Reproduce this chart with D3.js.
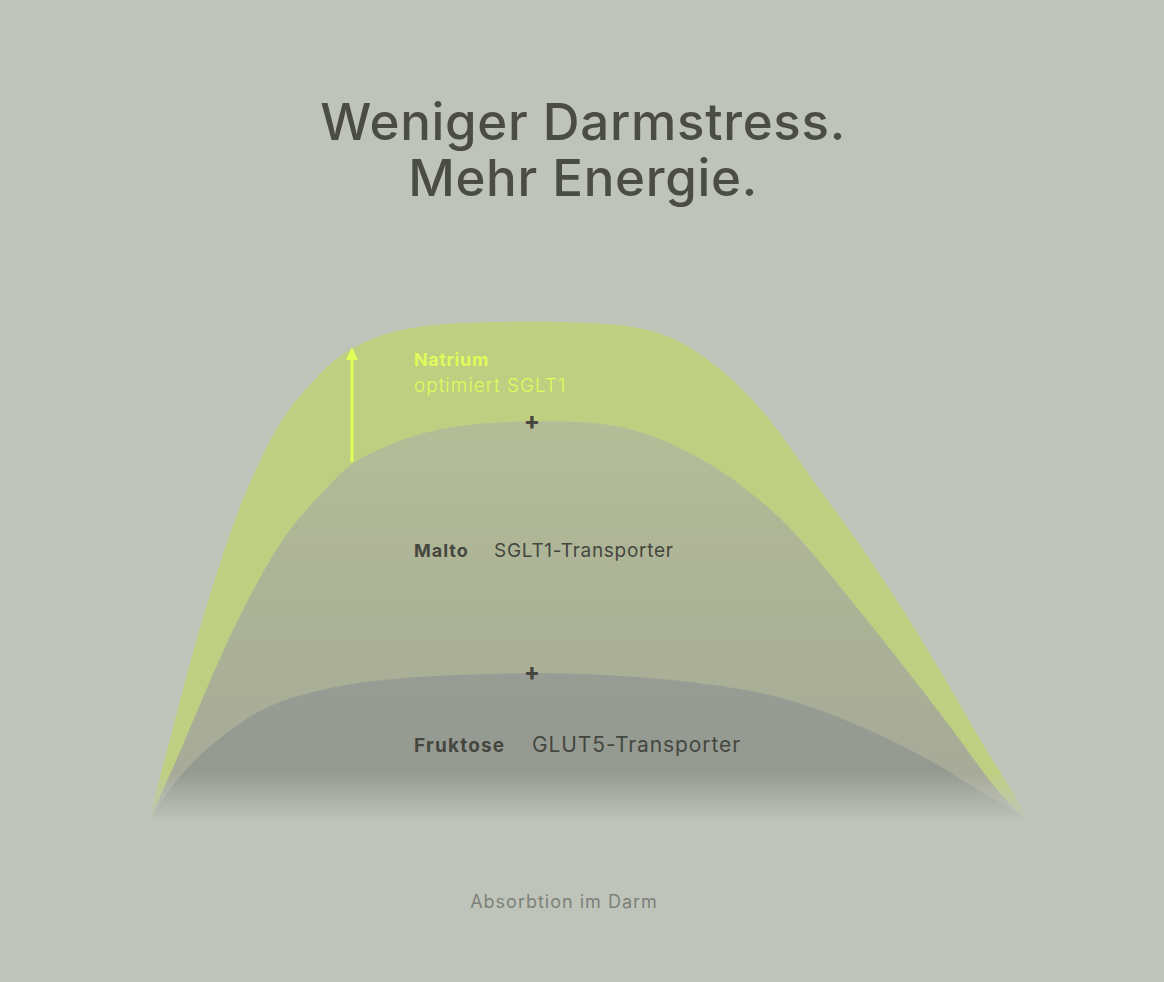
<!DOCTYPE html>
<html><head><meta charset="utf-8">
<script src="https://cdn.jsdelivr.net/npm/d3@7"></script>
<style>
html,body{margin:0;padding:0;background:#bfc4bb;}
svg{display:block;}
</style></head>
<body>
<div id="chart"></div>
<script>
// Data (x: position along gut 0-100, y: absorption 0-100)
const natriumX = [0,0.3,1.9,3.8,5.9,8.3,11.0,14.8,17.1,19.9,22.4,27.3,34.2,46.7,53.5,59.2,64.9,68.7,71.6,76.0,80.0,86.6,91.1,95.4,99.1,100];
const natriumY = [0,3.4,13.4,26.6,40,53.4,66.6,80,85,90.4,94,98,99.6,99.8,99.2,97.4,90.6,84,78,66.6,57.4,40,26.6,13.4,3.4,0];
const maltoX = [0,0.8,3.4,6.5,9.9,14.0,16.7,20.2,23.1,28.5,32.2,37.6,43.3,50.5,57.3,64.6,68.3,71.8,75.5,81.7,87.7,93.4,96.0,99.7];
const maltoY = [0,3.4,13.4,26.6,40,53.4,60,66.6,72,76,78,79.4,79.8,79.8,77.4,70.6,65.6,60.6,53.4,40,26.6,13.4,6.6,0];
const fruktoseX = [0,2.3,5.7,10.6,14.0,20.2,28.5,39.9,50.5,62.6,71.8,79.4,87.7,93.7,98.3,99.7];
const fruktoseY = [0,6.6,13.4,20,23.4,26.6,28.6,29.4,29.4,27.6,25,20,13.4,6.6,2,0];

const titleLines = ["Weniger Darmstress.", "Mehr Energie."];
const labelBold = ["Natrium", "Malto", "Fruktose"];
const labelText = ["optimiert SGLT1", "SGLT1-Transporter", "GLUT5-Transporter"];
const axisLabel = "Absorbtion im Darm";

const W = 1164, H = 982;
const svg = d3.select("#chart").append("svg").attr("width", W).attr("height", H);
const bg = "#bfc4bb";
svg.append("rect").attr("width", W).attr("height", H).attr("fill", bg);

const x = d3.scaleLinear().domain([0,100]).range([150,1028]);
const y = d3.scaleLinear().domain([0,100]).range([820,320]);

const defs = svg.append("defs");
const gM = defs.append("linearGradient").attr("id","gMalto").attr("gradientUnits","userSpaceOnUse")
  .attr("x1",0).attr("y1",y(80)).attr("x2",0).attr("y2",y(0));
gM.append("stop").attr("offset",0).attr("stop-color","#b4bc97");
gM.append("stop").attr("offset",0.55).attr("stop-color","#abb196");
gM.append("stop").attr("offset",1).attr("stop-color","#a6a899");
const gF = defs.append("linearGradient").attr("id","gFruk").attr("gradientUnits","userSpaceOnUse")
  .attr("x1",0).attr("y1",y(30)).attr("x2",0).attr("y2",y(0));
gF.append("stop").attr("offset",0).attr("stop-color","#979d94");
gF.append("stop").attr("offset",1).attr("stop-color","#949990");
const gFade = defs.append("linearGradient").attr("id","gFade").attr("gradientUnits","userSpaceOnUse")
  .attr("x1",0).attr("y1",772).attr("x2",0).attr("y2",824);
gFade.append("stop").attr("offset",0).attr("stop-color",bg).attr("stop-opacity",0);
gFade.append("stop").attr("offset",0.6).attr("stop-color",bg).attr("stop-opacity",0.65);
gFade.append("stop").attr("offset",1).attr("stop-color",bg).attr("stop-opacity",1);

const area = d3.area().x(d=>x(d[0])).y0(y(0)).y1(d=>y(d[1])).curve(d3.curveBasis);
const zip = (a,b)=>a.map((v,i)=>[v,b[i]]);

svg.append("path").datum(zip(natriumX,natriumY)).attr("d",area).attr("fill","#bfcf81");
svg.append("path").datum(zip(maltoX,maltoY)).attr("d",area).attr("fill","url(#gMalto)");
svg.append("path").datum(zip(fruktoseX,fruktoseY)).attr("d",area).attr("fill","url(#gFruk)");
svg.append("rect").attr("x",100).attr("y",772).attr("width",980).attr("height",60).attr("fill","url(#gFade)");

const font = "Inter, 'Noto Sans', sans-serif";
// title
svg.append("g").selectAll("text").data(titleLines).join("text")
  .attr("x", 583).attr("y",(d,i)=>140+i*56)
  .attr("text-anchor","middle").attr("font-family",font).attr("font-weight",500)
  .attr("font-size",51).attr("fill","#4a4c45").attr("letter-spacing","0.7")
  .text(d=>d);

// arrow
const arrowX = 23.0;
svg.append("line").attr("x1",x(arrowX)).attr("x2",x(arrowX)).attr("y1",y(71.6)).attr("y2",y(92.5))
  .attr("stroke","#e2ff55").attr("stroke-width",3);
svg.append("path").attr("d",`M${x(arrowX)-6},${y(92)} L${x(arrowX)},${y(94.6)} L${x(arrowX)+6},${y(92)} Z`).attr("fill","#e2ff55");

// labels
const natC = "#e0fb5a", dark = "#45473f";
svg.append("text").attr("x",414).attr("y",366).attr("font-family",font).attr("font-weight",700)
  .attr("font-size",18).attr("letter-spacing","0.6").attr("fill",natC).text(labelBold[0]);
svg.append("text").attr("x",414).attr("y",392).attr("font-family",font).attr("font-weight",300)
  .attr("font-size",19).attr("letter-spacing","1").attr("fill",natC).text(labelText[0]);

svg.append("text").attr("x",414).attr("y",557).attr("font-family",font).attr("font-weight",700)
  .attr("font-size",18).attr("letter-spacing","1").attr("fill",dark).text(labelBold[1]);
svg.append("text").attr("x",494).attr("y",557).attr("font-family",font).attr("font-weight",400)
  .attr("font-size",19).attr("letter-spacing","0.7").attr("fill",dark).text(labelText[1]);

svg.append("text").attr("x",414).attr("y",752).attr("font-family",font).attr("font-weight",700)
  .attr("font-size",19).attr("letter-spacing","1.2").attr("fill",dark).text(labelBold[2]);
svg.append("text").attr("x",532).attr("y",752).attr("font-family",font).attr("font-weight",400)
  .attr("font-size",21).attr("letter-spacing","0.9").attr("fill",dark).text(labelText[2]);

// plus signs
[79.8, 29.6].forEach(v=>{
  svg.append("text").attr("x",532).attr("y",y(v)+8).attr("text-anchor","middle").attr("font-family",font)
    .attr("font-weight",800).attr("font-size",23).attr("fill",dark).text("+");
});

svg.append("text").attr("x",564).attr("y",908).attr("text-anchor","middle").attr("font-family",font)
  .attr("font-size",18).attr("letter-spacing","1").attr("fill","#7d8178").text(axisLabel);
</script>
</body></html>
